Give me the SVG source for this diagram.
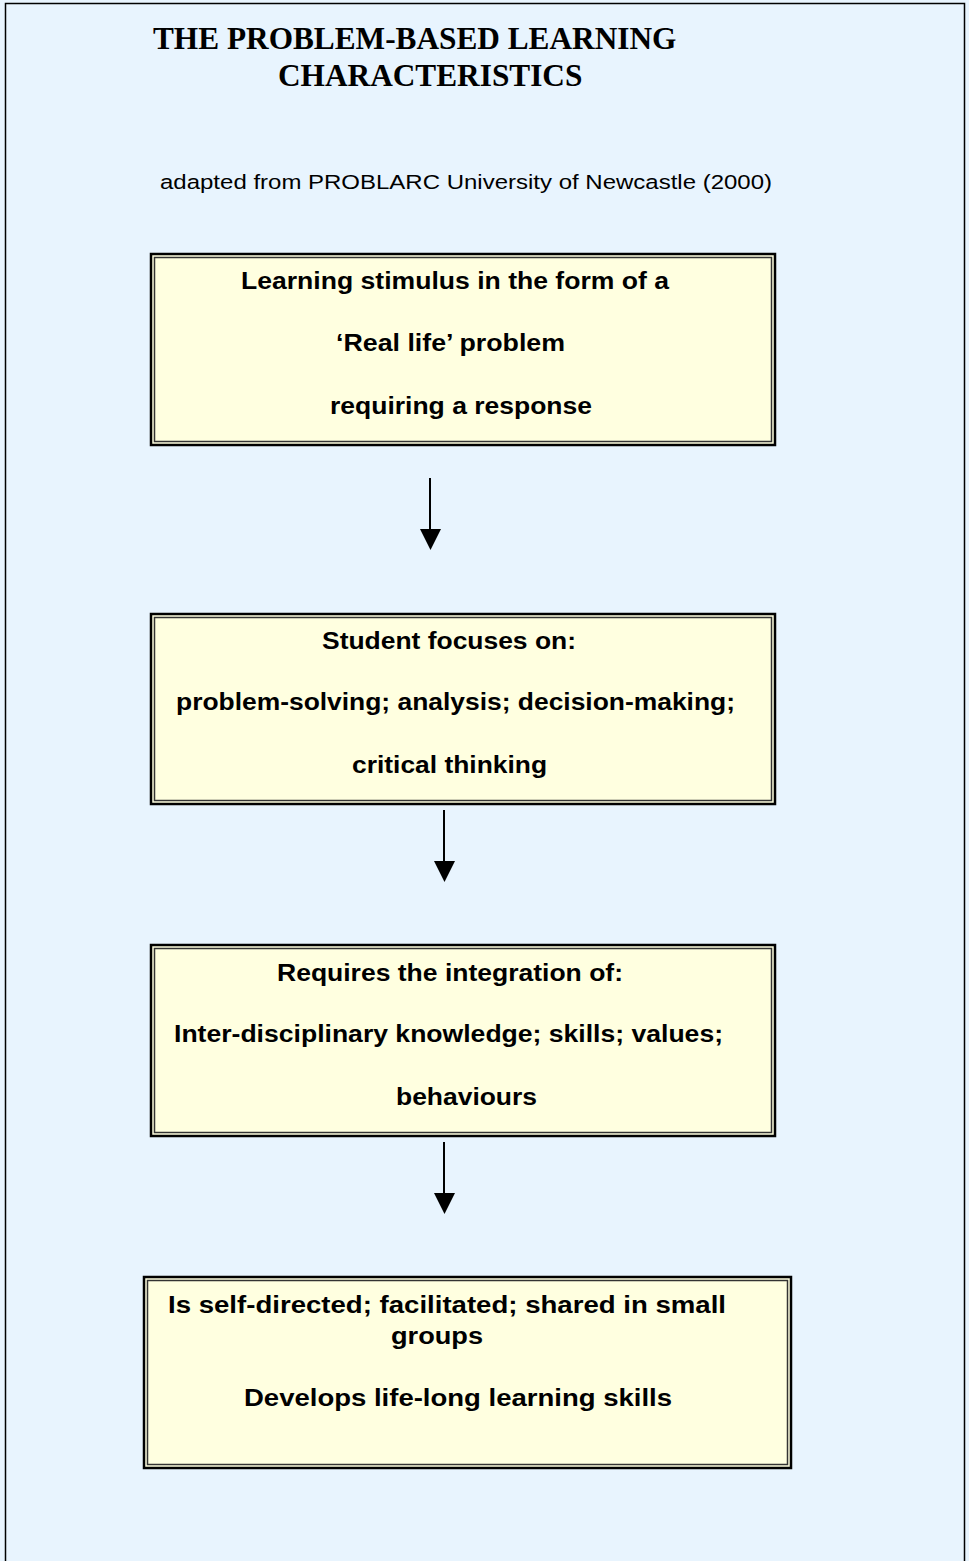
<svg xmlns="http://www.w3.org/2000/svg" width="969" height="1561" viewBox="0 0 969 1561">
<style>
.title{font-family:"Liberation Serif","Times New Roman",serif;font-weight:bold;font-size:31.3px;fill:#000}
.sub{font-family:"Liberation Sans",Arial,sans-serif;font-size:20.5px;fill:#000}
.lbl{font-family:"Liberation Sans",Arial,sans-serif;font-weight:bold;font-size:23.5px;fill:#000}
.outer{fill:#FFFFE0;stroke:#000;stroke-width:2.5}
.inner{fill:none;stroke:#333;stroke-width:1.5}
.conn{stroke:#000;stroke-width:2;fill:none}
.head{fill:#000}
</style>
<rect x="0" y="0" width="969" height="1561" fill="#E8F4FE"/>
<!-- page frame, open at the bottom -->
<path d="M5.5,1561 V3.5 H964.5 V1561" fill="none" stroke="#000" stroke-width="1.5"/>
<g id="title">
<text class="title" x="153" y="49">THE PROBLEM-BASED LEARNING</text>
<text class="title" x="278" y="86">CHARACTERISTICS</text>
<text class="sub" x="160" y="188.5" textLength="612" lengthAdjust="spacingAndGlyphs">adapted from PROBLARC University of Newcastle (2000)</text>
</g>
<g id="connectors">
<line class="conn" x1="430" y1="478" x2="430" y2="530"/>
<path class="head" d="M420,529 L441,529 L430.5,550 Z"/>
<line class="conn" x1="444" y1="810" x2="444" y2="862"/>
<path class="head" d="M434,861 L455,861 L444.5,882 Z"/>
<line class="conn" x1="444" y1="1142" x2="444" y2="1194"/>
<path class="head" d="M434,1193 L455,1193 L444.5,1214 Z"/>
</g>
<g id="node1">
<rect class="outer" x="151" y="254" width="624" height="191"/>
<rect class="inner" x="154.5" y="257.5" width="617" height="184"/>
<text class="lbl" x="241" y="289" textLength="428" lengthAdjust="spacingAndGlyphs">Learning stimulus in the form of a</text>
<text class="lbl" x="336" y="351" textLength="229" lengthAdjust="spacingAndGlyphs">‘Real life’ problem</text>
<text class="lbl" x="330" y="414" textLength="262" lengthAdjust="spacingAndGlyphs">requiring a response</text>
</g>
<g id="node2">
<rect class="outer" x="151" y="614" width="624" height="190"/>
<rect class="inner" x="154.5" y="617.5" width="617" height="183"/>
<text class="lbl" x="322" y="649" textLength="254" lengthAdjust="spacingAndGlyphs">Student focuses on:</text>
<text class="lbl" x="176" y="710" textLength="559" lengthAdjust="spacingAndGlyphs">problem-solving; analysis; decision-making;</text>
<text class="lbl" x="352" y="773" textLength="195" lengthAdjust="spacingAndGlyphs">critical thinking</text>
</g>
<g id="node3">
<rect class="outer" x="151" y="945" width="624" height="191"/>
<rect class="inner" x="154.5" y="948.5" width="617" height="184"/>
<text class="lbl" x="277" y="981" textLength="346" lengthAdjust="spacingAndGlyphs">Requires the integration of:</text>
<text class="lbl" x="174" y="1042" textLength="549" lengthAdjust="spacingAndGlyphs">Inter-disciplinary knowledge; skills; values;</text>
<text class="lbl" x="396" y="1105" textLength="141" lengthAdjust="spacingAndGlyphs">behaviours</text>
</g>
<g id="node4">
<rect class="outer" x="144" y="1277" width="647" height="191"/>
<rect class="inner" x="147.5" y="1280.5" width="640" height="184"/>
<text class="lbl" x="168" y="1313" textLength="558" lengthAdjust="spacingAndGlyphs">Is self-directed; facilitated; shared in small</text>
<text class="lbl" x="391" y="1344" textLength="92" lengthAdjust="spacingAndGlyphs">groups</text>
<text class="lbl" x="244" y="1406" textLength="428" lengthAdjust="spacingAndGlyphs">Develops life-long learning skills</text>
</g>
</svg>
